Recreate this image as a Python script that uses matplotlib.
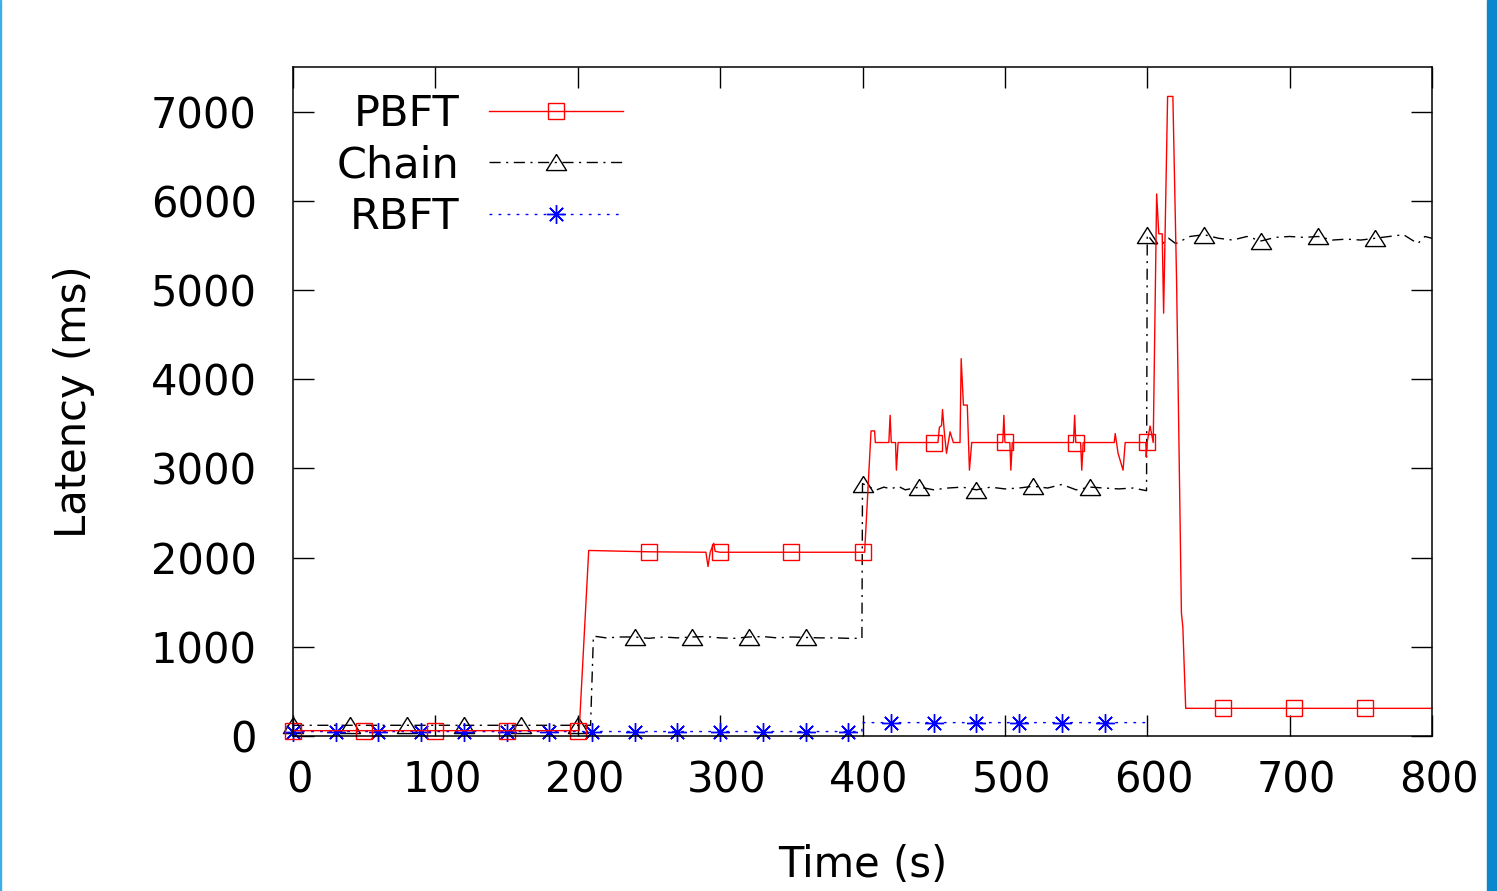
import matplotlib
matplotlib.use("Agg")
import matplotlib.pyplot as plt
import matplotlib.transforms as mtransforms
from matplotlib.patches import Rectangle

# ---------------- data ----------------
pbft_t = [0, 50, 100, 150, 200, 201, 207.7, 250, 290, 291.5, 293, 295.5, 296.5, 300, 350, 400, 401.5, 406,
          408.5, 409, 418.5, 419.4, 420.2, 423.2, 423.8, 425, 450, 453, 454, 455.5, 456.2, 457.5, 459, 461.5,
          463.8, 468.5, 469.3, 470.9, 473.6, 475.1, 476.7, 498.5, 499.3, 500, 500.2, 503.5, 504.2, 505.2,
          548.2, 549, 549.8, 550, 553.2, 554, 555, 576.8, 577.5, 579.5, 583, 584.5, 599, 599.3, 600, 602, 604.2,
          606.6, 608.1, 610.5, 611.5, 614.3, 618, 620.6, 624, 625, 627, 653, 703, 753, 800]
pbft_v = [60, 60, 60, 60, 60, 60, 2080, 2065, 2060, 1900, 2060, 2160, 2070, 2060, 2060, 2060, 2060, 3420,
          3420, 3290, 3290, 3595, 3290, 3290, 2980, 3290, 3290, 3290, 3460, 3480, 3660, 3400, 3170, 3410,
          3290, 3290, 4230, 3710, 3710, 2980, 3290, 3290, 3595, 3300, 3290, 3290, 2980, 3290,
          3290, 3595, 3290, 3290, 3290, 2980, 3290, 3290, 3390, 3170, 2980, 3290, 3290, 3130, 3300, 3475, 3290,
          6077, 5630, 5630, 4740, 7170, 7170, 5107, 1380, 1220, 310, 310, 310, 310, 310]
pbft_marks = [0, 50, 100, 150, 200, 250, 300, 350, 400, 450, 500, 550, 600, 653, 703, 753]

chain_t = [0, 40, 80, 120, 160, 200, 209, 211, 220, 230, 240, 250, 260, 270, 280, 290, 300, 310, 320, 330,
           340, 350, 360, 370, 380, 390, 399.6, 400, 405, 410, 415, 420, 425, 430, 440, 450, 460, 470, 480,
           490, 500, 510, 520, 530, 540, 550, 560, 570, 580, 590, 599.5, 600, 605, 610, 615, 620, 625, 630,
           640, 650, 660, 670, 680, 690, 700, 710, 720, 730, 740, 750, 760, 770, 780, 790, 795, 800]
chain_v = [120, 120, 120, 120, 120, 120, 120, 1120, 1100, 1110, 1110, 1095, 1110, 1100, 1110, 1115, 1100,
           1095, 1110, 1115, 1100, 1110, 1105, 1100, 1100, 1095, 1095, 2830, 2790, 2760, 2790, 2770, 2800,
           2760, 2790, 2760, 2780, 2790, 2760, 2790, 2770, 2780, 2800, 2780, 2820, 2760, 2790, 2780, 2770,
           2780, 2750, 5620, 5520, 5510, 5580, 5520, 5560, 5600, 5620, 5580, 5560, 5600, 5550, 5590, 5600,
           5590, 5600, 5560, 5570, 5560, 5580, 5600, 5620, 5520, 5600, 5580]
chain_marks = [0, 40, 80, 120, 160, 200, 240, 280, 320, 360, 400, 440, 480, 520, 560, 600, 640, 680, 720, 760]

rbft_t = [0, 30, 60, 90, 120, 150, 180, 210, 240, 270, 300, 330, 360, 390, 399.5, 400, 420, 450, 480,
          510, 540, 570, 599]
rbft_v = [50, 50, 50, 50, 50, 50, 50, 50, 50, 50, 50, 50, 50, 50, 50, 150, 150, 150, 150, 150, 150, 150, 150]
rbft_marks = [0, 30, 60, 90, 120, 150, 180, 210, 240, 270, 300, 330, 360, 390, 420, 450, 480, 510, 540, 570]

x_ticks = [0, 100, 200, 300, 400, 500, 600, 700, 800]
y_ticks = [0, 1000, 2000, 3000, 4000, 5000, 6000, 7000]
series_names = ["PBFT", "Chain", "RBFT"]

# ---------------- figure ----------------
W, H = 1497, 891
fig = plt.figure(figsize=(W / 100, H / 100), dpi=100)
ax = fig.add_axes([293 / W, 1 - 736 / H, (1432 - 293) / W, (736 - 67) / H])

FS = 30
tri = [(0, 0.8), (1, -0.8), (-1, -0.8), (0, 0.8)]


def idx(ts, marks):
    return [ts.index(m) for m in marks]


l1, = ax.plot(pbft_t, pbft_v, color="#ff0000", lw=1.0, marker="s", ms=11, mfc="none", mec="#ff0000",
              mew=1.0, markevery=idx(pbft_t, pbft_marks), label=series_names[0], zorder=3, clip_on=False)
l2, = ax.plot(chain_t, chain_v, color="black", lw=1.0, ls=(0, (8, 4, 1.5, 4)), marker=tri, ms=14.5,
              mfc="none", mec="black", mew=1.0, markevery=idx(chain_t, chain_marks), label=series_names[1],
              zorder=2, clip_on=False)
l3, = ax.plot(rbft_t, rbft_v, color="#0000ff", lw=1.0, ls=(0, (2, 4.5)), marker=(8, 2, 0), ms=13.5,
              mec="#0000ff", mew=1.0, markevery=idx(rbft_t, rbft_marks), label=series_names[2], zorder=2,
              clip_on=False)

ax.set_xlim(0, 800)
ax.set_ylim(0, 7500)
ax.set_xticks(x_ticks)
ax.set_yticks(y_ticks)
ax.tick_params(axis="both", which="both", direction="in", length=15, width=1.0,
               top=True, right=True, labelsize=FS)
ax.tick_params(axis="y", pad=26)
ax.tick_params(axis="x", pad=17)
for s in ax.spines.values():
    s.set_linewidth(1.1)
    s.set_zorder(5)

offset = mtransforms.ScaledTranslation(6.5 / 100, 0, fig.dpi_scale_trans)
for lab in ax.get_xticklabels():
    lab.set_transform(lab.get_transform() + offset)

ax.set_xlabel("Time (s)", fontsize=FS)
ax.set_ylabel("Latency (ms)", fontsize=FS)
ax.xaxis.set_label_coords(0.5, -0.162)
ax.yaxis.set_label_coords(-0.174, 0.5)

leg = ax.legend(loc="upper left", bbox_to_anchor=(337 / W, 1 - 93 / H), bbox_transform=fig.transFigure,
                frameon=False, fontsize=31, markerfirst=False, handlelength=3.1, handletextpad=0.68,
                labelspacing=0.22, borderpad=0, borderaxespad=0, numpoints=1)

# window border strips
fig.patches.append(Rectangle((0, 0), 1.5 / W, 1, transform=fig.transFigure, color="#3daee9", zorder=10))
fig.patches.append(Rectangle((1486.5 / W, 0), 10.5 / W, 1, transform=fig.transFigure, color="#0b87cb",
                             zorder=10))

fig.savefig("out.png", dpi=100)
